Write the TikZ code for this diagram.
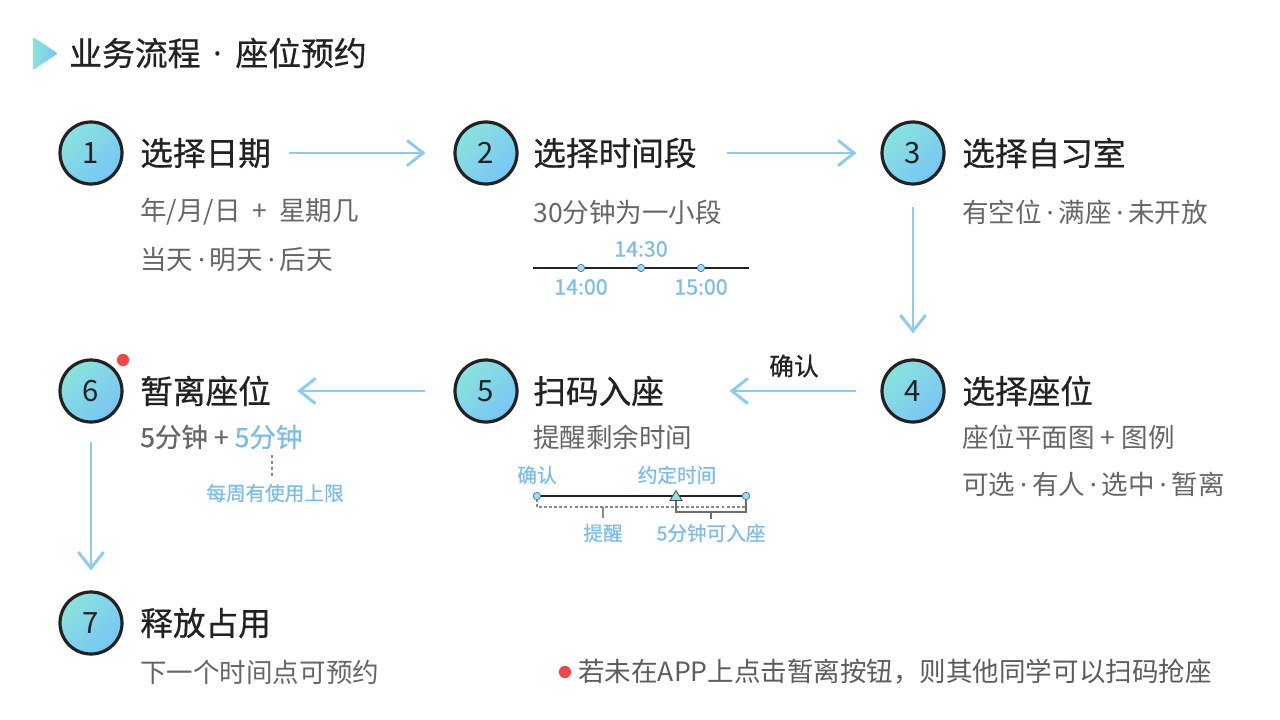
\documentclass[tikz,border=0pt]{standalone}
\usepackage{fontspec}
\setmainfont{Noto Sans CJK SC}
\newfontfamily\medf[FakeBold=0.6]{Noto Sans CJK SC}
\newfontfamily\latinf{Noto Sans}
\newcommand\mdot{\hspace{0.18em}{\latinf ·}\hspace{0.18em}}
\usetikzlibrary{arrows.meta,shapes.geometric}
\definecolor{ink}{HTML}{222222}
\definecolor{subgray}{HTML}{666666}
\definecolor{lblue}{HTML}{7BBDE8}
\definecolor{ablue}{HTML}{8DCCEF}
\definecolor{cA}{HTML}{8AE3DD}
\definecolor{cB}{HTML}{78C5F5}
\definecolor{redd}{HTML}{F04848}
\definecolor{dotfill}{HTML}{A9D9F2}
\definecolor{dotline}{HTML}{3F7FB0}
\definecolor{dashg}{HTML}{8A8A8A}
\begin{document}
\begin{tikzpicture}[x=0.75pt,y=-0.75pt,
  num/.style={circle, minimum size=46.5pt, inner sep=0pt, draw=ink, line width=2.4pt,
    top color=cA, bottom color=cB, shading angle=45, text=ink,
    font=\fontsize{22}{24}\selectfont},
  ttl/.style={anchor=west, inner sep=0pt, text=ink, font=\fontsize{24.5}{28}\selectfont\medf},
  sub/.style={anchor=west, inner sep=0pt, text=subgray, font=\fontsize{19.9}{24}\selectfont},
  lbl/.style={inner sep=0pt, text=lblue, font=\fontsize{14.7}{17}\selectfont\medf},
  tlbl/.style={lbl, font=\fontsize{16}{18}\selectfont\medf},
  arr/.style={draw=ablue, line width=2.2pt, -{Straight Barb[length=12pt,width=19pt]}},
  tl/.style={draw=ink, line width=1pt},
  tdot/.style={circle, minimum size=5.5pt, inner sep=0pt, fill=dotfill, draw=dotline, line width=0.6pt}
]
\useasboundingbox (0,0) rectangle (1280,720);
\fill[white] (0,0) rectangle (1280,720);

% title
\shade[left color=cA, right color=cB, rounded corners=1.5pt] (33,37) -- (58,53.5) -- (33,70) -- cycle;
\node[anchor=west, inner sep=0pt, text=ink, font=\fontsize{24.6}{28}\selectfont\medf] (title) at (69,53) {业务流程\hspace{0.4em}{\latinf ·}\hspace{0.4em}座位预约};

% circles
\node[num] (c1) at (91,153) {1};
\node[num] (c2) at (486,153) {2};
\node[num] (c3) at (913,153) {3};
\node[num] (c4) at (913,391) {4};
\node[num] (c5) at (486,391) {5};
\node[num] (c6) at (91,391) {6};
\node[num] (c7) at (91,623) {7};

% titles
\node[ttl] (t1) at (140,153) {选择日期};
\node[ttl] (t2) at (533,153) {选择时间段};
\node[ttl] (t3) at (962,153) {选择自习室};
\node[ttl] (t4) at (962,391) {选择座位};
\node[ttl] (t5) at (533,391) {扫码入座};
\node[ttl] (t6) at (140,391) {暂离座位};
\node[ttl] (t7) at (140,623) {释放占用};

% subtitles
\node[sub] (s1a) at (140,212) {年/月/日\hspace{0.45em}+\hspace{0.45em}星期几};
\node[sub] (s1b) at (140,260) {当天\mdot 明天\mdot 后天};
\node[sub] (s2) at (533,212) {30分钟为一小段};
\node[sub] (s3) at (962,212) {有空位\mdot 满座\mdot 未开放};
\node[sub] (s4a) at (962,437) {座位平面图 + 图例};
\node[sub] (s4b) at (962,484) {可选\mdot 有人\mdot 选中\mdot 暂离};
\node[sub] (s5) at (533,437) {提醒剩余时间};
\node[sub, font=\fontsize{19.9}{24}\selectfont\medf, text=subgray] (s6) at (140,437) {5分钟 + \textcolor{lblue}{5分钟}};
\node[sub] (s7) at (140,672) {下一个时间点可预约};

% arrows
\draw[arr, shorten <=13.5pt, shorten >=21pt] (t1.east) -- (c2.west);
\draw[arr, shorten <=22.5pt, shorten >=18pt] (t2.east) -- (c3.west);
\draw[arr, shorten <=15.75pt, shorten >=18.75pt] (c3.south) -- (c4.north);
\draw[arr, shorten <=18pt, shorten >=49pt] (c4.west) -- (t5.east)
  node[pos=0.4, yshift=18.75pt, inner sep=0pt, text=ink, font=\fontsize{18.5}{21}\selectfont\medf] (ok) {确认};
\draw[arr, shorten <=21pt, shorten >=19.5pt] (c5.west) -- (t6.east);
\draw[arr, shorten <=13.5pt, shorten >=15pt] (c6.south) -- (c7.north);

% red dots
\fill[redd] (123,360) circle (4.6pt);

% step 2 timeline
\coordinate (a0) at (533,268);
\coordinate (a1) at (749,268);
\draw[tl] (a0) -- (a1);
\node[tdot] (d1) at (581,268) {};
\node[tdot] (d2) at (641,268) {};
\node[tdot] (d3) at (701,268) {};
\node[tlbl] (l1430) at (641,249) {14:30};
\node[tlbl] (l1400) at (581,287) {14:00};
\node[tlbl] (l1500) at (701,287) {15:00};

% step 6 note
\coordinate (n6a) at (272,455);
\coordinate (n6b) at (272,476);
\draw[dashg, line width=1pt, dash pattern=on 2.5pt off 2pt] (n6a) -- (n6b);
\node[lbl] (limit) at (275,493) {每周有使用上限};

% step 5 timeline
\node[lbl] (lok) at (537,475) {确认};
\node[lbl] (lappt) at (677,475) {约定时间};
\coordinate (b0) at (537,496);
\coordinate (b1) at (746,496);
\coordinate (bt) at (676,496);
\draw[tl] (b0) -- (b1);
\draw[dashg, line width=0.8pt, dash pattern=on 2.2pt off 1.6pt] (537,499) -- (537,507) -- (746,507);
\draw[dashg, line width=0.8pt] (603,507) -- (603,518);
\draw[dashg!80!black, line width=0.8pt] (676,500) -- (676,512) -- (746,512) -- (746,499);
\draw[dashg!80!black, line width=0.8pt] (711,512) -- (711,519);
\node[tdot] (e0) at (b0) {};
\node[tdot] (e1) at (b1) {};
\fill[cA, draw=ink!80, line width=0.6pt] (670,500.5) -- (682,500.5) -- (676,490.5) -- cycle;
\node[lbl] (lrem) at (603,533) {提醒};
\node[lbl] (l5m) at (711,533) {5分钟可入座};

% bottom note
\fill[redd] (565,672) circle (4.6pt);
\node[sub, text=subgray!90!black] (note) at (578,672) {若未在APP上点击暂离按钮，则其他同学可以扫码抢座};
\end{tikzpicture}
\end{document}
